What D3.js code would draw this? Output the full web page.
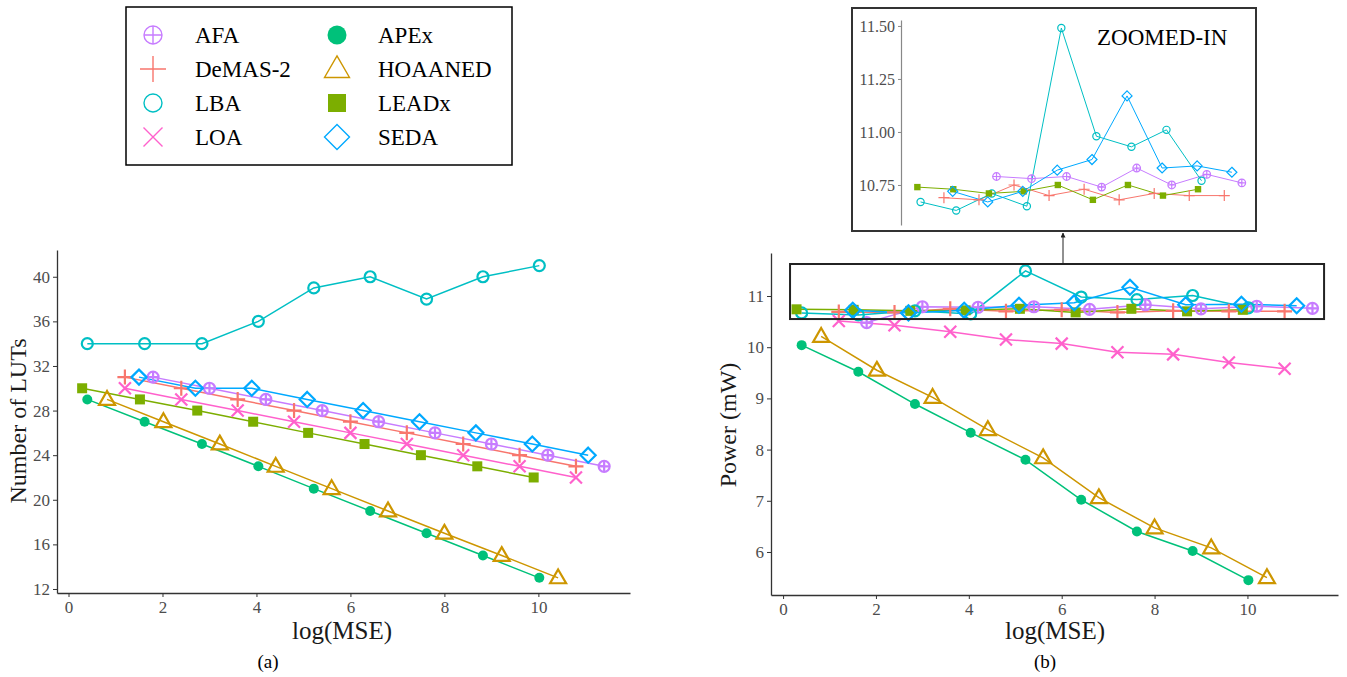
<!DOCTYPE html>
<html>
<head>
<meta charset="utf-8">
<script src="https://cdn.jsdelivr.net/npm/d3@7"></script>
<style>
  body { margin: 0; background: #fff; }
  svg, svg text { font-family: "Liberation Serif", "Times New Roman", serif; }
</style>
</head>
<body>
<svg id="chart" width="1347" height="677"></svg>
<script>
// ---- data ----
const seriesNames  = ["AFA", "APEx", "DeMAS-2", "HOAANED", "LBA", "LEADx", "LOA", "SEDA"];
const seriesColors = ["#C77CFF", "#00C17A", "#F8766D", "#CD9600", "#00BFC4", "#7CAE00", "#FF61CC", "#00A9FF"];
const seriesShapes = ["oplus", "dot", "plus", "triangle", "circle", "square", "cross", "diamond"];

// log(MSE) per series
const mseAFA     = [1.8, 3.0, 4.2, 5.4, 6.6, 7.8, 9.0, 10.2, 11.4];
const mseAPEx    = [0.4, 1.62, 2.84, 4.04, 5.22, 6.42, 7.62, 8.82, 10.02];
const mseDeMAS   = [1.2, 2.4, 3.6, 4.8, 6.0, 7.2, 8.4, 9.6, 10.8];
const mseHOAANED = [0.82, 2.02, 3.22, 4.41, 5.6, 6.8, 8.0, 9.22, 10.42];
const mseLBA     = [0.4, 1.62, 2.84, 4.04, 5.22, 6.42, 7.62, 8.82, 10.02];
const mseLEADx   = [0.29, 1.52, 2.74, 3.93, 5.1, 6.3, 7.5, 8.7, 9.9];
const mseLOA     = [1.2, 2.4, 3.6, 4.8, 6.0, 7.2, 8.4, 9.6, 10.8];
const mseSEDA    = [1.5, 2.7, 3.9, 5.08, 6.27, 7.47, 8.67, 9.87, 11.06];

// number of LUTs
const lutAFA     = [31, 30, 29, 28, 27, 26, 25, 24, 23];
const lutAPEx    = [29, 27, 25, 23, 21, 19, 17, 15, 13];
const lutDeMAS   = [31, 30, 29, 28, 27, 26, 25, 24, 23];
const lutHOAANED = [29, 27, 25, 23, 21, 19, 17, 15, 13];
const lutLBA     = [34, 34, 34, 36, 39, 40, 38, 40, 41];
const lutLEADx   = [30, 29, 28, 27, 26, 25, 24, 23, 22];
const lutLOA     = [30, 29, 28, 27, 26, 25, 24, 23, 22];
const lutSEDA    = [31, 30, 30, 29, 28, 27, 26, 25, 24];

// power (mW)
const pwrAFA     = [10.48, 10.79, 10.78, 10.79, 10.74, 10.83, 10.75, 10.80, 10.76];
const pwrAPEx    = [10.04, 9.52, 8.89, 8.33, 7.80, 7.02, 6.40, 6.02, 5.45];
const pwrDeMAS   = [10.69, 10.68, 10.75, 10.70, 10.73, 10.68, 10.71, 10.70, 10.70];
const pwrHOAANED = [10.21, 9.55, 9.02, 8.39, 7.84, 7.06, 6.47, 6.08, 5.50];
const pwrLBA     = [10.67, 10.63, 10.71, 10.65, 11.49, 10.98, 10.93, 11.01, 10.77];
const pwrLEADx   = [10.74, 10.73, 10.71, 10.72, 10.75, 10.68, 10.75, 10.70, 10.73];
const pwrLOA     = [10.51, 10.43, 10.30, 10.15, 10.07, 9.90, 9.86, 9.70, 9.58];
const pwrSEDA    = [10.72, 10.67, 10.72, 10.82, 10.87, 11.17, 10.83, 10.84, 10.81];

const lutTicks = [12, 16, 20, 24, 28, 32, 36, 40];
const pwrTicks = [6, 7, 8, 9, 10, 11];
const mseTicks = [0, 2, 4, 6, 8, 10];
const zoomTicks = [10.75, 11.00, 11.25, 11.50];

const mseAll = [mseAFA, mseAPEx, mseDeMAS, mseHOAANED, mseLBA, mseLEADx, mseLOA, mseSEDA];
const lutAll = [lutAFA, lutAPEx, lutDeMAS, lutHOAANED, lutLBA, lutLEADx, lutLOA, lutSEDA];
const pwrAll = [pwrAFA, pwrAPEx, pwrDeMAS, pwrHOAANED, pwrLBA, pwrLEADx, pwrLOA, pwrSEDA];

const series = seriesNames.map((name, i) => ({
  name, color: seriesColors[i], shape: seriesShapes[i],
  lut: mseAll[i].map((m, j) => ({ x: m, y: lutAll[i][j] })),
  pwr: mseAll[i].map((m, j) => ({ x: m, y: pwrAll[i][j] }))
}));

const FONT = '"Liberation Serif", "Times New Roman", serif';
const svg = d3.select("#chart");

// ---- marker drawing ----
function addSymbol(g, shape, s, color, sw) {
  if (shape === "oplus") {
    g.append("circle").attr("r", s).attr("fill", "none").attr("stroke", color).attr("stroke-width", sw);
    g.append("path").attr("d", `M${-s},0H${s}M0,${-s}V${s}`).attr("stroke", color).attr("stroke-width", sw);
  } else if (shape === "dot") {
    g.append("circle").attr("r", s).attr("fill", color);
  } else if (shape === "plus") {
    g.append("path").attr("d", `M${-s},0H${s}M0,${-s}V${s}`).attr("stroke", color).attr("stroke-width", sw);
  } else if (shape === "triangle") {
    g.append("path").attr("d", `M0,${-s * 1.05}L${s},${s * 0.68}L${-s},${s * 0.68}Z`)
      .attr("fill", "none").attr("stroke", color).attr("stroke-width", sw);
  } else if (shape === "circle") {
    g.append("circle").attr("r", s).attr("fill", "none").attr("stroke", color).attr("stroke-width", sw);
  } else if (shape === "square") {
    g.append("rect").attr("x", -s).attr("y", -s).attr("width", 2 * s).attr("height", 2 * s).attr("fill", color);
  } else if (shape === "cross") {
    g.append("path").attr("d", `M${-s},${-s}L${s},${s}M${-s},${s}L${s},${-s}`).attr("stroke", color).attr("stroke-width", sw);
  } else if (shape === "diamond") {
    g.append("path").attr("d", `M0,${-s}L${s},0L0,${s}L${-s},0Z`)
      .attr("fill", "none").attr("stroke", color).attr("stroke-width", sw);
  }
}

const mainSize = { oplus: 5.5, dot: 5, plus: 7.5, triangle: 8, circle: 5.5, square: 5, cross: 6, diamond: 7.5 };
const legendSize = { oplus: 9, dot: 9.5, plus: 13, triangle: 12.5, circle: 9, square: 9, cross: 9.5, diamond: 12.5 };
const insetSize = { oplus: 3.8, dot: 3, plus: 5.5, triangle: 4, circle: 3.6, square: 3.2, cross: 4, diamond: 5 };

function drawSeries(layer, key, xs, ys, sizes, lw, sw, filterFn) {
  const line = d3.line().x(d => xs(d.x)).y(d => ys(d.y));
  series.forEach(s => {
    const pts = filterFn ? s[key].filter(filterFn) : s[key];
    layer.append("path").datum(pts).attr("d", line)
      .attr("fill", "none").attr("stroke", s.color).attr("stroke-width", lw);
  });
  series.forEach(s => {
    const pts = filterFn ? s[key].filter(filterFn) : s[key];
    pts.forEach(d => {
      const g = layer.append("g").attr("transform", `translate(${xs(d.x)},${ys(d.y)})`);
      addSymbol(g, s.shape, sizes[s.shape], s.color, sw);
    });
  });
}

function styleAxis(g, fs) {
  g.attr("font-family", FONT).attr("font-size", fs);
  g.select(".domain").attr("stroke", "#333").attr("stroke-width", 1.3);
  g.selectAll(".tick line").attr("stroke", "#333");
  g.selectAll(".tick text").attr("fill", "#4d4d4d");
}

// ---- (a) Number of LUTs ----
const xL = d3.scaleLinear().domain([-0.245, 11.95]).range([57, 630]);
const yL = d3.scaleLinear().domain([11.64, 42.4]).range([593, 250]);

svg.append("g").attr("transform", "translate(0,593)")
  .call(d3.axisBottom(xL).tickValues(mseTicks).tickSize(4).tickSizeOuter(0).tickPadding(4))
  .call(g => styleAxis(g, 17));
svg.append("g").attr("transform", "translate(57,0)")
  .call(d3.axisLeft(yL).tickValues(lutTicks).tickSize(4).tickSizeOuter(0).tickPadding(3))
  .call(g => styleAxis(g, 17));

drawSeries(svg.append("g"), "lut", xL, yL, mainSize, 1.5, 2.2);

svg.append("text").attr("transform", "translate(26,421) rotate(-90)")
  .attr("text-anchor", "middle").style("font-size", "24px").attr("fill", "#1a1a1a").text("Number of LUTs");
svg.append("text").attr("x", 342).attr("y", 639).attr("text-anchor", "middle")
  .style("font-size", "25px").attr("fill", "#1a1a1a").text("log(MSE)");
svg.append("text").attr("x", 268).attr("y", 668).attr("text-anchor", "middle")
  .style("font-size", "19px").attr("fill", "#000").text("(a)");

// ---- (b) Power ----
const xR = d3.scaleLinear().domain([-0.26, 11.95]).range([771, 1338]);
const yR = d3.scaleLinear().domain([5.16, 11.84]).range([595, 253]);

svg.append("g").attr("transform", "translate(0,595)")
  .call(d3.axisBottom(xR).tickValues(mseTicks).tickSize(4).tickSizeOuter(0).tickPadding(4))
  .call(g => styleAxis(g, 17));
svg.append("g").attr("transform", "translate(771,0)")
  .call(d3.axisLeft(yR).tickValues(pwrTicks).tickSize(4).tickSizeOuter(0).tickPadding(3).tickFormat(d3.format("d")))
  .call(g => styleAxis(g, 17));

drawSeries(svg.append("g"), "pwr", xR, yR, mainSize, 1.5, 2.2);

// zoom box on the main plot
const boxX = [0.15, 11.65], boxY = [10.55, 11.625];
svg.append("rect")
  .attr("x", xR(boxX[0])).attr("y", yR(boxY[1]))
  .attr("width", xR(boxX[1]) - xR(boxX[0])).attr("height", yR(boxY[0]) - yR(boxY[1]))
  .attr("fill", "none").attr("stroke", "#222").attr("stroke-width", 2);

svg.append("defs").append("marker").attr("id", "arrow")
  .attr("viewBox", "0 0 10 10").attr("refX", 9).attr("refY", 5)
  .attr("markerWidth", 5).attr("markerHeight", 5).attr("orient", "auto")
  .append("path").attr("d", "M0,0L10,5L0,10Z").attr("fill", "#222");
svg.append("line").attr("x1", 1063).attr("x2", 1063).attr("y1", yR(boxY[1])).attr("y2", 233)
  .attr("stroke", "#222").attr("stroke-width", 1).attr("marker-end", "url(#arrow)");

svg.append("text").attr("transform", "translate(736,425) rotate(-90)")
  .attr("text-anchor", "middle").style("font-size", "24px").attr("fill", "#1a1a1a").text("Power (mW)");
svg.append("text").attr("x", 1055).attr("y", 639).attr("text-anchor", "middle")
  .style("font-size", "25px").attr("fill", "#1a1a1a").text("log(MSE)");
svg.append("text").attr("x", 1045).attr("y", 668).attr("text-anchor", "middle")
  .style("font-size", "19px").attr("fill", "#000").text("(b)");

// ---- inset (zoomed-in) ----
svg.append("rect").attr("x", 852).attr("y", 8).attr("width", 404).attr("height", 223)
  .attr("fill", "#fff").attr("stroke", "#333").attr("stroke-width", 2);

const xI = d3.scaleLinear().domain([-0.27, 11.68]).range([901, 1250]);
const yI = d3.scaleLinear().domain([10.5613, 11.528]).range([225, 20]);

const insetAxis = svg.append("g").attr("transform", "translate(901,0)")
  .call(d3.axisLeft(yI).tickValues(zoomTicks).tickSize(3).tickSizeOuter(0).tickPadding(3).tickFormat(d3.format(".2f")))
  .call(g => styleAxis(g, 16));
insetAxis.select(".domain").attr("stroke", "#888").attr("stroke-width", 1.2);
insetAxis.selectAll(".tick line").attr("stroke", "#888");

const insetSeries = svg.append("g");
drawSeries(insetSeries, "pwr", xI, yI, insetSize, 1, 1.2,
  d => d.y >= yI.domain()[0] && d.y <= yI.domain()[1] && d.x >= xI.domain()[0]);

svg.append("text").attr("x", 1097).attr("y", 45)
  .style("font-size", "23px").attr("fill", "#000").text("ZOOMED-IN");

// ---- legend ----
svg.append("rect").attr("x", 126).attr("y", 7).attr("width", 386).attr("height", 158)
  .attr("fill", "#fff").attr("stroke", "#000").attr("stroke-width", 1.5);

const legendOrder = [0, 2, 4, 6, 1, 3, 5, 7];
legendOrder.forEach((si, k) => {
  const col = Math.floor(k / 4), row = k % 4;
  const sx = col === 0 ? 153 : 337;
  const tx = col === 0 ? 195 : 378;
  const cy = 35 + row * 34;
  const s = series[si];
  const g = svg.append("g").attr("transform", `translate(${sx},${cy})`);
  addSymbol(g, s.shape, legendSize[s.shape], s.color, 1.4);
  svg.append("text").attr("x", tx).attr("y", cy + 8)
    .style("font-size", "23px").attr("fill", "#000").text(s.name);
});
</script>
</body>
</html>
